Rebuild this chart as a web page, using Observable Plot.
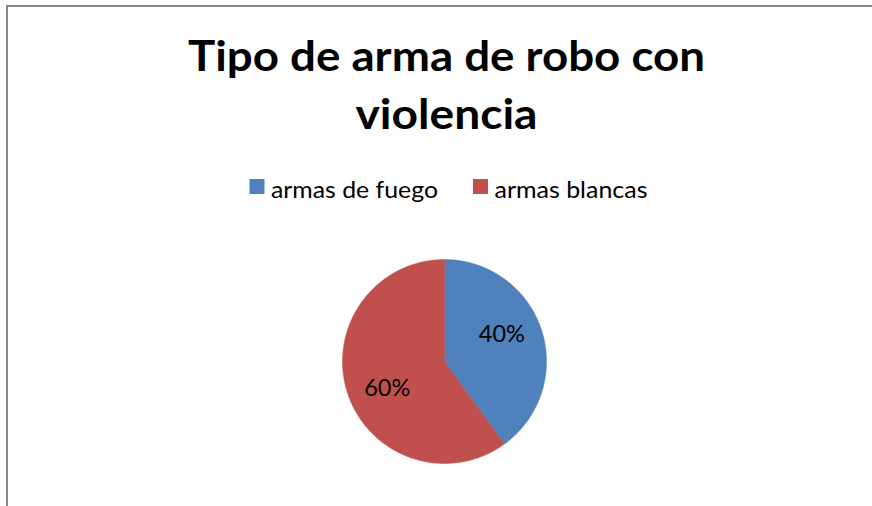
<!DOCTYPE html>
<html>
<head>
<meta charset="utf-8">
<script src="https://cdn.jsdelivr.net/npm/d3@7"></script>
<script src="https://cdn.jsdelivr.net/npm/@observablehq/plot@0.6"></script>
<style>
  html, body { margin: 0; padding: 0; background: #fff; }
  #page { position: relative; width: 872px; height: 506px; overflow: hidden; background: #fff; font-family: Lato, "Open Sans", sans-serif; }
  #header { position: absolute; left: 0; top: 0; }
  #chart { position: absolute; left: 0; top: 230px; }
  #frame { position: absolute; left: 6px; top: 5px; width: 900px; height: 600px; border-top: 2px solid #888888; border-left: 2px solid #888888; pointer-events: none; }
</style>
</head>
<body>
<div id="page">
  <svg id="header" width="872" height="230" xmlns="http://www.w3.org/2000/svg"></svg>
  <div id="chart"></div>
  <div id="frame"></div>
</div>
<script>
// ---- data ----
const titleLines = ["Tipo de arma de robo con", "violencia"];
const categories = ["armas de fuego", "armas blancas"];
const values = [40, 60];
const pctLabels = ["40%", "60%"];
const colors = ["#4F81BD", "#C0504D"];

// ---- header: title + legend ----
const header = d3.select("#header");
const titleLayout = [
  {y: 71, w: 517},
  {y: 129, w: 182}
];
titleLines.forEach((t, i) => {
  header.append("text")
    .attr("x", 446.5).attr("y", titleLayout[i].y)
    .attr("text-anchor", "middle")
    .attr("font-family", "Lato, 'Open Sans', sans-serif")
    .attr("font-weight", 700)
    .attr("font-size", 41.5)
    .attr("fill", "#000")
    .attr("textLength", titleLayout[i].w)
    .attr("lengthAdjust", "spacingAndGlyphs")
    .text(t);
});
const legendLayout = [
  {sx: 249.5, tx: 271, w: 167},
  {sx: 473, tx: 494.5, w: 153}
];
categories.forEach((c, i) => {
  header.append("rect")
    .attr("x", legendLayout[i].sx).attr("y", 179)
    .attr("width", 15).attr("height", 15)
    .attr("fill", colors[i]);
  header.append("text")
    .attr("x", legendLayout[i].tx).attr("y", 198)
    .attr("font-family", "Lato, 'Open Sans', sans-serif")
    .attr("font-size", 23.5)
    .attr("fill", "#000")
    .attr("textLength", legendLayout[i].w)
    .attr("lengthAdjust", "spacingAndGlyphs")
    .text(c);
});

// ---- pie via Plot ----
const R = 102, CX = 444, CY = 131, W = 872, H = 276;
const rows = categories.map((name, i) => ({name, value: values[i], label: pctLabels[i]}));
const arcs = d3.pie().sort(null).value(d => d.value)(rows);

const outline = arcs.flatMap(a => {
  const pts = [{name: a.data.name, x: 0, y: 0}];
  const n = Math.max(2, Math.ceil((a.endAngle - a.startAngle) / (Math.PI / 360)));
  for (let k = 0; k <= n; k++) {
    const t = a.startAngle + (a.endAngle - a.startAngle) * k / n;
    pts.push({name: a.data.name, x: Math.sin(t), y: Math.cos(t)});
  }
  pts.push({name: a.data.name, x: 0, y: 0});
  return pts;
});

const labelOffset = -7 * Math.PI / 180;
const labelRadius = 0.62;
const labelData = arcs.map(a => {
  const m = (a.startAngle + a.endAngle) / 2 + labelOffset;
  return {label: a.data.label, x: labelRadius * Math.sin(m), y: labelRadius * Math.cos(m)};
});

const chart = Plot.plot({
  width: W,
  height: H,
  margin: 0,
  x: {domain: [-CX / R, (W - CX) / R], axis: null},
  y: {domain: [-(H - CY) / R, CY / R], axis: null},
  color: {domain: categories, range: colors},
  style: {background: "transparent", fontFamily: "Lato, 'Open Sans', sans-serif"},
  marks: [
    Plot.line(outline, {x: "x", y: "y", z: "name", fill: "name", stroke: "name", strokeWidth: 0.5, curve: "linear"}),
    Plot.text(labelData, {x: "x", y: "y", text: "label", fontSize: 23.5, fill: "#000"})
  ]
});
document.getElementById("chart").appendChild(chart);
</script>
</body>
</html>
